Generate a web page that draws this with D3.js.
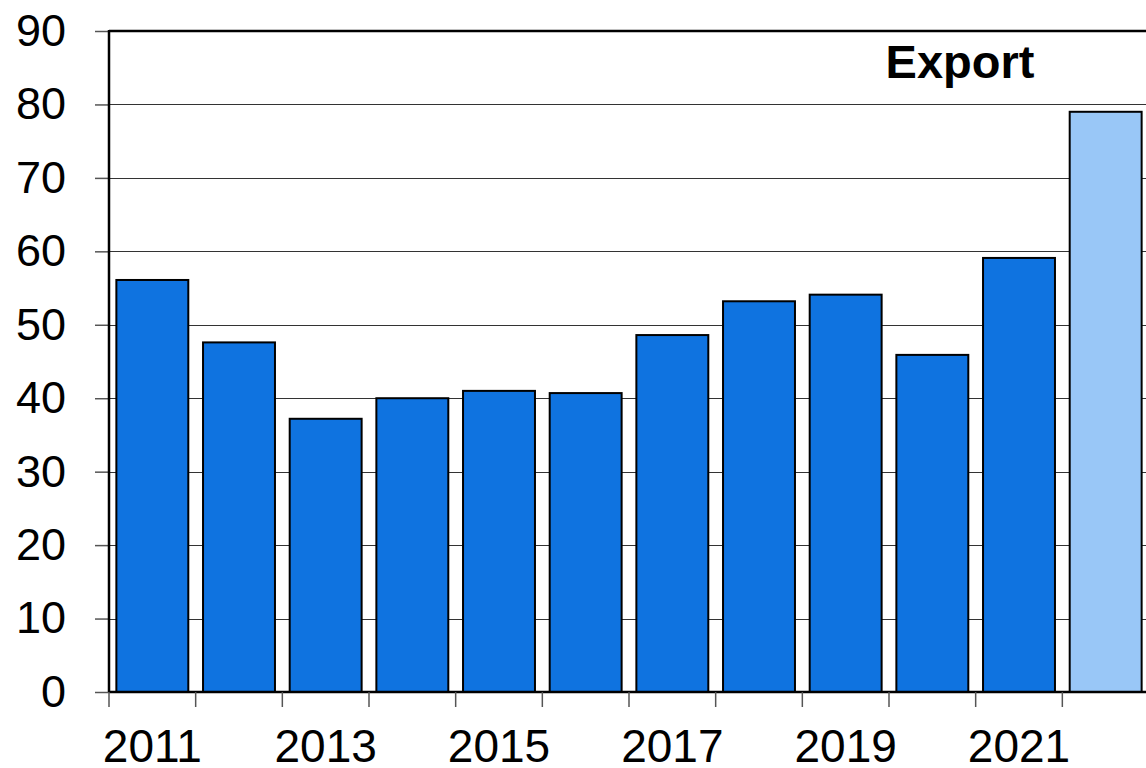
<!DOCTYPE html>
<html lang="en">
<head>
<meta charset="utf-8">
<title>Export</title>
<style>
  html, body { margin: 0; padding: 0; background: #fff; }
  text { font-family: "Liberation Sans", Arial, sans-serif; fill: #000; }
</style>
</head>
<body>
<div id="chart"></div>
<script src="https://d3js.org/d3.v7.min.js"></script>
<script>
// data
var years = ["2011","2012","2013","2014","2015","2016","2017","2018","2019","2020","2021","2022"];
var values = [56.1, 47.6, 37.2, 40.0, 41.0, 40.7, 48.6, 53.2, 54.1, 45.9, 59.1, 79.0];
var forecast = [false,false,false,false,false,false,false,false,false,false,false,true];
var yearLabels = ["2011","2013","2015","2017","2019","2021"];
var yTicks = [0,10,20,30,40,50,60,70,80,90];
var title = "Export";

var width = 1146, height = 768;
var plotLeft = 109, plotRight = 1149, plotTop = 31, plotBottom = 692;

var svg = d3.select("#chart").append("svg")
  .attr("width", width)
  .attr("height", height);

var x = d3.scaleBand()
  .domain(years)
  .range([plotLeft, plotRight])
  .paddingInner(0.17)
  .paddingOuter(0.085);

var y = d3.scaleLinear()
  .domain([0, 90])
  .range([plotBottom, plotTop]);

// gridlines
svg.append("g")
  .selectAll("line")
  .data(yTicks.filter(function (d) { return d > 0 && d < 90; }))
  .enter().append("line")
  .attr("x1", plotLeft).attr("x2", width)
  .attr("y1", function (d) { return Math.round(y(d)) + 0.5; })
  .attr("y2", function (d) { return Math.round(y(d)) + 0.5; })
  .attr("stroke", "#333")
  .attr("stroke-width", 1);

// y axis
var yAxis = svg.append("g")
  .attr("transform", "translate(" + plotLeft + ",0)")
  .call(d3.axisLeft(y).tickValues(yTicks).tickSize(14).tickPadding(29).tickSizeOuter(0));
yAxis.select(".domain").remove();
yAxis.selectAll(".tick line").attr("stroke", "#555").attr("stroke-width", 1.5);
yAxis.selectAll(".tick text")
  .style("font-size", "45px")
  .style("font-family", "'Liberation Sans', Arial, sans-serif");

// bars
svg.append("g")
  .selectAll("rect")
  .data(years)
  .enter().append("rect")
  .attr("x", function (d) { return x(d); })
  .attr("y", function (d, i) { return y(values[i]); })
  .attr("width", x.bandwidth())
  .attr("height", function (d, i) { return y(0) - y(values[i]); })
  .attr("fill", function (d, i) { return forecast[i] ? "#99c7f7" : "#0f73e0"; })
  .attr("stroke", "#000")
  .attr("stroke-width", 2);

// frame: top and left
svg.append("line")
  .attr("x1", plotLeft).attr("x2", width)
  .attr("y1", plotTop).attr("y2", plotTop)
  .attr("stroke", "#000").attr("stroke-width", 2.5);
svg.append("line")
  .attr("x1", plotLeft).attr("x2", plotLeft)
  .attr("y1", plotTop - 1).attr("y2", plotBottom)
  .attr("stroke", "#000").attr("stroke-width", 2.5);

// x axis line
svg.append("line")
  .attr("x1", plotLeft).attr("x2", width)
  .attr("y1", plotBottom).attr("y2", plotBottom)
  .attr("stroke", "#000").attr("stroke-width", 2.5);

// x ticks at band edges
var gap = (x.step() - x.bandwidth()) / 2;
svg.append("g")
  .selectAll("line")
  .data(years)
  .enter().append("line")
  .attr("x1", function (d) { return x(d) - gap; })
  .attr("x2", function (d) { return x(d) - gap; })
  .attr("y1", plotBottom).attr("y2", plotBottom + 15)
  .attr("stroke", "#555").attr("stroke-width", 1.5);

// x labels on odd years
svg.append("g")
  .selectAll("text")
  .data(yearLabels)
  .enter().append("text")
  .attr("x", function (d) { return x(d) + x.bandwidth() / 2; })
  .attr("y", 762)
  .attr("text-anchor", "middle")
  .style("font-size", "46px")
  .text(function (d) { return d; });

// title
svg.append("text")
  .attr("x", 960)
  .attr("y", 78)
  .attr("text-anchor", "middle")
  .style("font-size", "47px")
  .style("font-weight", "bold")
  .text(title);
</script>
</body>
</html>
